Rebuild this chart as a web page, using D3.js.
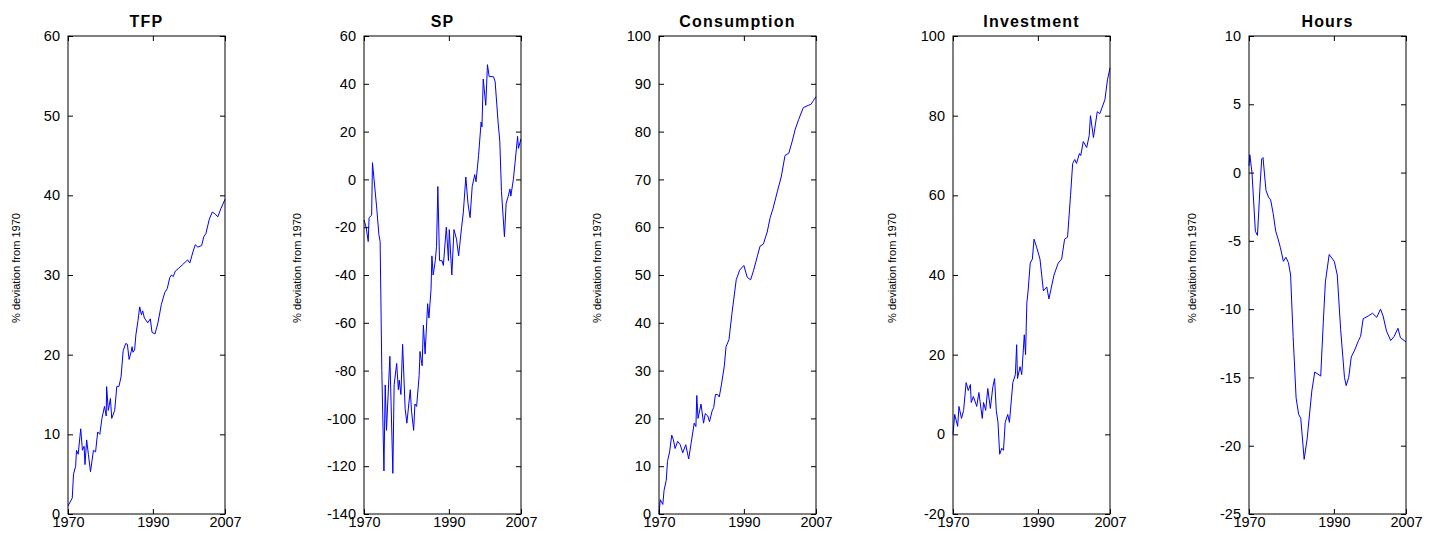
<!DOCTYPE html>
<html lang="en">
<head>
<meta charset="utf-8">
<title>Deviation from 1970</title>
<script src="https://cdnjs.cloudflare.com/ajax/libs/d3/7.8.5/d3.min.js"></script>
<style>
body { margin: 0; background: #fff; }
text { font-family: "Liberation Sans", Arial, sans-serif; }
</style>
</head>
<body>
<script>
var titles = ["TFP", "SP", "Consumption", "Investment", "Hours"];
var xTicks = [1970, 1990, 2007];
var yDomains = [[0, 60], [-140, 60], [0, 100], [-20, 100], [-25, 10]];
var yStep = [10, 20, 10, 20, 5];

var tfpYears = [1970,1970.5,1971,1971.3,1971.8,1972,1972.4,1973,1973.4,1973.8,1974,1974.4,1974.8,1975.3,1976,1976.5,1977,1977.5,1978,1978.6,1979,1979.1,1979.5,1980,1980.3,1981,1981.5,1982,1982.5,1983,1983.6,1984,1984.4,1984.9,1985.1,1985.3,1985.7,1986,1986.5,1986.9,1987.3,1987.6,1988,1988.8,1989.4,1989.8,1990.5,1991.2,1992,1992.8,1993.4,1994,1994.4,1994.8,1995.3,1996,1997,1998.2,1998.7,1999.5,2000,2000.6,2001.5,2002,2002.5,2003.3,2004,2004.6,2005.3,2006,2007];
var tfpValues = [1,1.5,2,5,6,8,7.5,10.7,8,8.5,6.2,9.3,7.5,5.3,8,7.8,10.3,10,12,13.5,12.3,16,13,14.5,12,13,16,16,17.2,20.5,21.4,21.3,19.4,20.4,21,20.3,20.6,22.5,24.3,26,25,25.5,24.6,24,24.5,22.8,22.6,24,26.3,27.8,28.3,29.7,30,29.8,30.5,30.8,31.3,31.9,31.5,33,33.8,33.5,33.7,34.8,35.2,37,37.9,37.7,37.3,38.3,39.5];

var spYears = [1970,1970.5,1971,1971.2,1971.8,1972,1973,1973.5,1973.8,1974.2,1974.7,1975,1975.3,1976.1,1976.8,1977.1,1977.7,1978.1,1978.3,1978.7,1979.1,1979.7,1980.1,1980.9,1981.2,1981.7,1982,1982.4,1983,1983.2,1983.7,1984,1984.4,1985,1985.3,1985.8,1986,1986.3,1986.8,1987.1,1987.4,1987.8,1988.4,1988.7,1989.4,1989.9,1990.1,1990.7,1991.2,1991.8,1992.3,1993,1993.4,1994,1994.5,1995,1995.5,1996.1,1996.4,1997,1997.6,1997.8,1998.1,1998.7,1999.1,1999.5,2000.5,2000.9,2001.6,2002,2002.4,2003.1,2003.5,2004,2004.4,2004.6,2005.2,2005.6,2006.2,2006.4,2007];
var spValues = [-17,-20,-26,-16,-15,7,-12,-23,-26,-80,-122,-86,-105,-74,-123,-86,-77,-88,-84,-90,-69,-96,-102,-88,-97,-105,-94,-95,-82,-72,-78,-61,-73,-52,-58,-46,-32,-40,-34,-28,-3,-34,-34,-36,-20,-34,-21,-40,-21,-25,-32,-20,-14,1,-10,-16,-3,2,-1,10,24,22,42,31,48,43,43,41,24,16,-5,-24,-10,-7,-4,-7,0,7,18,13,17];

var conYears = [1970,1970.3,1970.9,1971.2,1971.7,1972,1972.5,1973,1973.4,1973.8,1974.4,1975,1975.6,1976.3,1977,1977.6,1978.3,1978.7,1978.9,1979.2,1979.9,1980.5,1980.9,1981.5,1981.9,1982.5,1982.9,1983.3,1983.8,1984.2,1984.7,1985.4,1985.8,1986.5,1987.2,1988.2,1989,1990,1990.8,1991.6,1992.3,1993.2,1993.8,1994.6,1995.5,1996.2,1996.9,1997.9,1998.8,1999.7,2000.6,2001.4,2002.1,2002.9,2004,2005.2,2005.8,2006.4,2007];
var conValues = [0,3,2,5,7,11,13,16.5,15.5,13.7,15.2,14.5,12.8,14.5,11.5,15,19,18.3,24.8,20,23,19,21,20.5,19.3,21.5,22.3,25,25,24.5,27,31,35,36.5,42,49,51,52,49.5,49,51,54,56,56.5,59,62,64,67.5,70.5,75,75.5,78,80.5,82.5,85,85.5,85.7,86.5,87.3];

var invYears = [1970,1970.4,1971.1,1971.4,1972,1972.5,1973.1,1973.6,1974.1,1974.3,1974.8,1975.6,1976.1,1976.9,1977.2,1977.7,1978.2,1978.8,1979.4,1979.8,1980.2,1980.6,1981,1981.5,1981.9,1982.3,1982.9,1983.3,1984.1,1984.7,1985,1985.2,1985.8,1986.2,1986.8,1987.1,1987.4,1987.7,1988.2,1988.7,1989.1,1989.7,1990.5,1991.3,1992.1,1992.6,1993,1993.8,1994.8,1995.6,1996.3,1997,1997.3,1997.7,1998.2,1998.7,1999.1,1999.8,2000.1,2000.7,2001.5,2002.1,2002.4,2003.1,2004,2004.6,2005.8,2006.4,2007];
var invValues = [0,5,2,7,4,6,13,11,12.5,8,9.5,7,10.5,4,8,6,11.5,6.5,12,14,6,3,-5,-3.5,-4,3,5,3,13,15,22.5,14,17,15,25,20,33,36,43,44,49,47,44,36,37,34,36,40,43,44,49,49.5,54,60,68,69,68,70.5,70,73.5,72,75,80,74.5,81,80.5,84,89,92];

var hrsYears = [1970,1970.2,1970.7,1971.5,1972,1972.6,1973,1973.3,1974,1974.6,1975.1,1975.7,1976.3,1976.8,1977.4,1978.1,1978.7,1979.3,1979.8,1980.4,1981.1,1981.7,1982.2,1983,1983.7,1984.8,1985.5,1986.9,1987.5,1988,1988.9,1990.1,1990.8,1991.6,1992.5,1992.9,1993.5,1994.1,1994.9,1995.8,1996.3,1996.9,1998.1,1999.1,2000.1,2001,2001.6,2002.4,2003.4,2004.2,2005.1,2005.7,2007];
var hrsValues = [0.5,1.3,0,-4.3,-4.6,-1,1,1.1,-1.3,-1.8,-2,-3,-4.3,-4.8,-5.5,-6.5,-6.2,-6.6,-7.5,-12,-16.5,-17.7,-18,-21,-19.5,-16,-14.6,-14.9,-11,-8,-6,-6.5,-7.5,-11.5,-15,-15.6,-15,-13.5,-13,-12.3,-12,-10.7,-10.5,-10.3,-10.6,-10,-10.5,-11.6,-12.3,-12,-11.4,-12.1,-12.4];

var seriesYears = [tfpYears, spYears, conYears, invYears, hrsYears];
var seriesValues = [tfpValues, spValues, conValues, invValues, hrsValues];

var boxLeft = [68, 364, 659, 953, 1249];
var labelX = [16, 297, 597, 892, 1192];
var plotTop = 36, plotBottom = 514, boxW = 157, tick = 5;

var svg = d3.select("body").append("svg").attr("width", 1442).attr("height", 534);

function styleAxis(sel) {
	sel.select(".domain").remove();
	sel.selectAll("line").attr("stroke", "#000");
	sel.selectAll("text").style("font-size", "14.5px").attr("fill", "#000")
		.style("font-family", "'Liberation Sans', Arial, sans-serif");
}

titles.forEach(function(t, i) {
	var g = svg.append("g");
	var x = d3.scaleLinear().domain([1970, 2007]).range([boxLeft[i], boxLeft[i] + boxW]);
	var y = d3.scaleLinear().domain(yDomains[i]).range([plotBottom, plotTop]);
	var yt = d3.range(yDomains[i][0], yDomains[i][1] + 0.001, yStep[i]);

	var line = d3.line()
		.x(function(d) { return x(d[0]); })
		.y(function(d) { return y(d[1]); });
	g.append("path")
		.datum(d3.zip(seriesYears[i], seriesValues[i]))
		.attr("d", line)
		.attr("fill", "none")
		.attr("stroke", "#0000ff")
		.attr("stroke-width", 1);

	g.append("rect")
		.attr("x", x(1970)).attr("y", plotTop)
		.attr("width", boxW).attr("height", plotBottom - plotTop)
		.attr("fill", "none").attr("stroke", "#000").attr("stroke-width", 1);

	g.append("g").attr("transform", "translate(0," + plotBottom + ")")
		.call(d3.axisBottom(x).tickValues(xTicks).tickFormat(d3.format("d")).tickSizeInner(-tick).tickSizeOuter(0).tickPadding(3))
		.call(styleAxis);
	g.append("g").attr("transform", "translate(0," + plotTop + ")")
		.call(d3.axisTop(x).tickValues(xTicks).tickFormat("").tickSizeInner(-tick).tickSizeOuter(0))
		.call(styleAxis);
	g.append("g").attr("transform", "translate(" + x(1970) + ",0)")
		.call(d3.axisLeft(y).tickValues(yt).tickFormat(function(d) { return String(d); }).tickSizeInner(-tick).tickSizeOuter(0).tickPadding(8))
		.call(styleAxis);
	g.append("g").attr("transform", "translate(" + x(2007) + ",0)")
		.call(d3.axisRight(y).tickValues(yt).tickFormat("").tickSizeInner(-tick).tickSizeOuter(0))
		.call(styleAxis);

	g.append("text")
		.attr("x", boxLeft[i] + boxW / 2).attr("y", 27)
		.attr("text-anchor", "middle")
		.style("font-size", "16px").style("font-weight", "bold").style("letter-spacing", "1.2px")
		.text(t);

	g.append("text")
		.attr("transform", "translate(" + (labelX[i] + 4) + ",268) rotate(-90)")
		.attr("text-anchor", "middle")
		.attr("textLength", 110).attr("lengthAdjust", "spacingAndGlyphs")
		.style("font-size", "11px")
		.text("% deviation from 1970");
});
</script>
</body>
</html>
